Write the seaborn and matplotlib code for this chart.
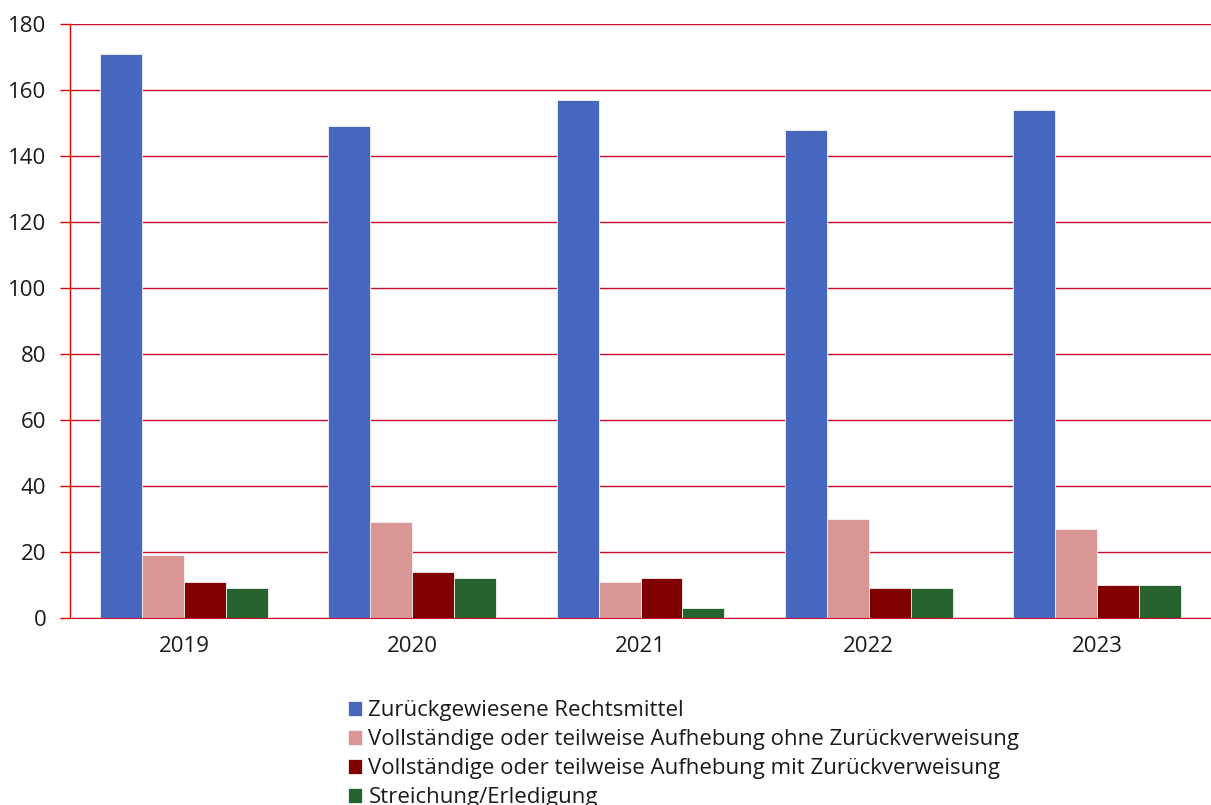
import matplotlib
matplotlib.use("Agg")
import matplotlib.pyplot as plt
import seaborn as sns
import pandas as pd

# Daten
jahre = ["2019", "2020", "2021", "2022", "2023"]
kategorien = [
    "Zurückgewiesene Rechtsmittel",
    "Vollständige oder teilweise Aufhebung ohne Zurückverweisung",
    "Vollständige oder teilweise Aufhebung mit Zurückverweisung",
    "Streichung/Erledigung",
]
zurueckgewiesen = [171, 149, 157, 148, 154]
ohne_zurueck = [19, 29, 11, 30, 27]
mit_zurueck = [11, 14, 12, 9, 10]
streichung = [9, 12, 3, 9, 10]
farben = ["#4666C0", "#DA9694", "#800000", "#26622E"]


def build_frame():
    """Baut einen langen DataFrame aus den Reihen."""
    reihen = [zurueckgewiesen, ohne_zurueck, mit_zurueck, streichung]
    rows = []
    for kat, werte in zip(kategorien, reihen):
        for jahr, wert in zip(jahre, werte):
            rows.append({"Jahr": jahr, "Kategorie": kat, "Anzahl": wert})
    return pd.DataFrame(rows)


def main():
    df = build_frame()
    sns.set_style("white")
    plt.rcParams["font.family"] = ["Open Sans", "DejaVu Sans"]

    fig = plt.figure(figsize=(12.11, 8.05), dpi=100)
    ax = fig.add_axes([70 / 1211, 1 - 618 / 805, 1 - 70 / 1211, (618 - 24) / 805])

    sns.barplot(data=df, x="Jahr", y="Anzahl", hue="Kategorie", order=jahre,
                hue_order=kategorien, palette=farben, saturation=1, width=0.736,
                edgecolor="#f4f4f4", linewidth=0.6, ax=ax, zorder=2)

    ax.set_ylim(0, 180)
    ax.set_xlim(-0.5, 4.5)
    ax.set_yticks(range(0, 181, 20))
    ax.yaxis.grid(True, color="#C8102E", linewidth=1.0, zorder=0)
    ax.set_axisbelow(True)
    ax.set_xlabel("")
    ax.set_ylabel("")

    for side in ["top", "right"]:
        ax.spines[side].set_visible(False)
    ax.spines["left"].set_color("#E00000")
    ax.spines["bottom"].set_color("#C8102E")
    ax.spines["left"].set_linewidth(1.0)

    # Kategorie-Trennstriche an der x-Achse
    ax.set_xticks([0, 1, 2, 3, 4])
    ax.set_xticks([0.5, 1.5, 2.5, 3.5], minor=True)
    ax.tick_params(axis="x", which="major", length=0, labelsize=16, pad=13,
                   colors="#1a1a1a")
    ax.tick_params(axis="x", which="minor", length=7, width=1, color="#E07080")
    ax.tick_params(axis="y", length=7, width=1, color="#E00000", labelsize=16,
                   pad=10, left=True, labelcolor="#1a1a1a")

    handles, labels = ax.get_legend_handles_labels()
    ax.legend(handles, labels, loc="upper left",
              bbox_to_anchor=(348 / 1211, 1 - 700 / 805),
              bbox_transform=fig.transFigure, frameon=False, fontsize=16,
              handlelength=0.65, handleheight=0.65, handletextpad=0.27,
              labelspacing=0.36, borderaxespad=0, borderpad=0,
              labelcolor="#1a1a1a")

    fig.savefig("out.png", dpi=100)


if __name__ == "__main__":
    main()
